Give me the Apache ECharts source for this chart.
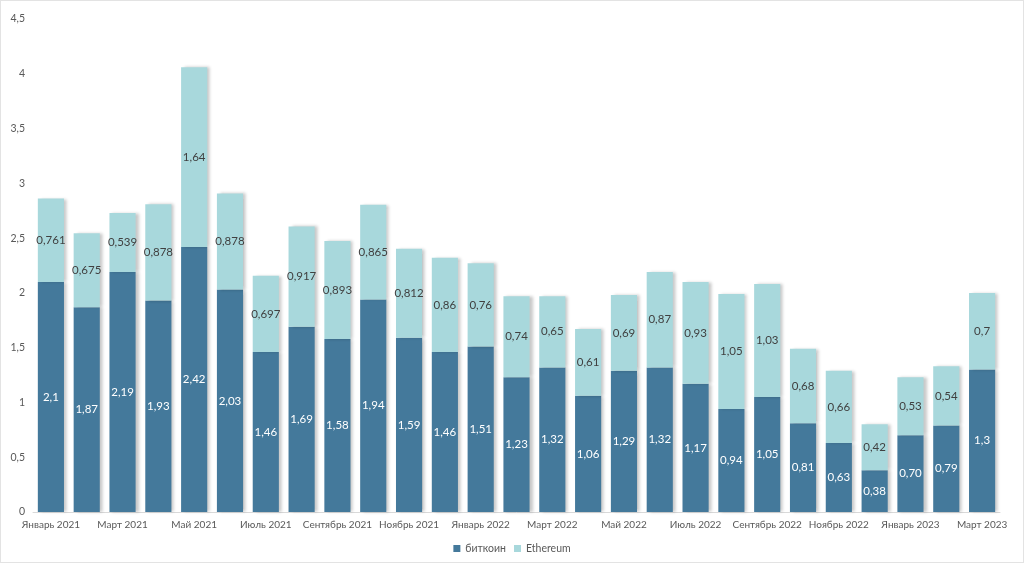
<!DOCTYPE html>
<html><head><meta charset="utf-8">
<script src="https://cdn.jsdelivr.net/npm/echarts@6/dist/echarts.min.js"></script>
<style>html,body{margin:0;padding:0;background:#fff}#c{width:1022px;height:561px;border:1px solid #e3e3e3}</style>
</head><body><div id="c"></div>
<script>
const categories = ["Январь 2021","Февраль 2021","Март 2021","Апрель 2021","Май 2021","Июнь 2021","Июль 2021","Август 2021","Сентябрь 2021","Октябрь 2021","Ноябрь 2021","Декабрь 2021","Январь 2022","Февраль 2022","Март 2022","Апрель 2022","Май 2022","Июнь 2022","Июль 2022","Август 2022","Сентябрь 2022","Октябрь 2022","Ноябрь 2022","Декабрь 2022","Январь 2023","Февраль 2023","Март 2023"];
const bitcoin = [2.1,1.87,2.19,1.93,2.42,2.03,1.46,1.69,1.58,1.94,1.59,1.46,1.51,1.23,1.32,1.06,1.29,1.32,1.17,0.94,1.05,0.81,0.63,0.38,0.70,0.79,1.3];
const bitcoinLabels = ["2,1","1,87","2,19","1,93","2,42","2,03","1,46","1,69","1,58","1,94","1,59","1,46","1,51","1,23","1,32","1,06","1,29","1,32","1,17","0,94","1,05","0,81","0,63","0,38","0,70","0,79","1,3"];
const ethereum = [0.761,0.675,0.539,0.878,1.64,0.878,0.697,0.917,0.893,0.865,0.812,0.86,0.76,0.74,0.65,0.61,0.69,0.87,0.93,1.05,1.03,0.68,0.66,0.42,0.53,0.54,0.7];
const ethereumLabels = ["0,761","0,675","0,539","0,878","1,64","0,878","0,697","0,917","0,893","0,865","0,812","0,86","0,76","0,74","0,65","0,61","0,69","0,87","0,93","1,05","1,03","0,68","0,66","0,42","0,53","0,54","0,7"];
const yTicks = {min:0, max:4.5, interval:0.5};

const chart = echarts.init(document.getElementById('c'));
const font = 'Lato, Noto Sans, sans-serif';
const shadow = {shadowColor:'rgba(0,0,0,0.22)', shadowBlur:3, shadowOffsetX:3, shadowOffsetY:0};
chart.setOption({
  animation:false,
  textStyle:{fontFamily:font},
  grid:{left:32, right:23, top:18, bottom:50},
  legend:{bottom:3, left:'center', itemWidth:7, itemHeight:7, itemGap:8, icon:'rect',
    textStyle:{color:'#595959', fontSize:10.5, fontFamily:font}},
  xAxis:{type:'category', data:categories,
    axisLine:{lineStyle:{color:'#d9d9d9'}}, axisTick:{show:false},
    axisLabel:{interval:1, color:'#595959', fontSize:10, margin:8, fontFamily:font}},
  yAxis:{type:'value', min:yTicks.min, max:yTicks.max, interval:yTicks.interval,
    splitLine:{show:false}, axisLine:{show:false}, axisTick:{show:false},
    axisLabel:{color:'#595959', fontSize:10.5, margin:8, fontFamily:font,
      formatter:v=>String(v).replace('.',',')}},
  series:[
    {name:'биткоин', type:'bar', stack:'a', data:bitcoin, barCategoryGap:'27%',
     itemStyle:Object.assign({color:'#44799b'}, shadow),
     label:{show:true, position:'inside', color:'#ffffff', fontSize:11.5, fontFamily:font,
       formatter:p=>bitcoinLabels[p.dataIndex]}},
    {name:'Ethereum', type:'bar', stack:'a', data:ethereum,
     itemStyle:Object.assign({color:'#a8d8dc'}, shadow),
     label:{show:true, position:'inside', color:'#404040', fontSize:11.5, fontFamily:font,
       formatter:p=>ethereumLabels[p.dataIndex]}}
  ]
});
</script></body></html>
